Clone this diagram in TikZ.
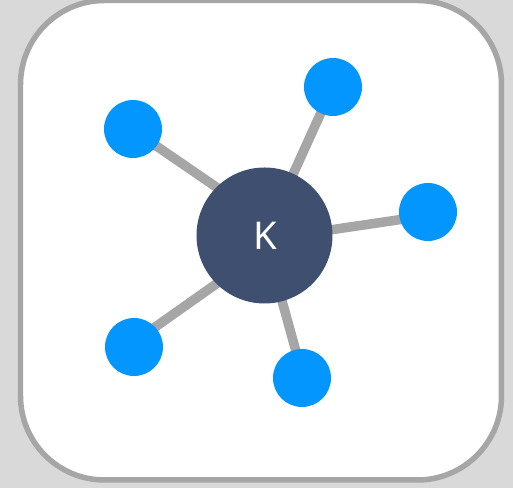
\documentclass[tikz,border=0pt]{standalone}
\usepackage{fontspec}
\setsansfont{Noto Sans}
\usepackage{xcolor}
\usetikzlibrary{positioning,backgrounds}
\definecolor{pagegrey}{HTML}{D9D9D9}
\definecolor{rimgrey}{HTML}{A6A6A6}
\definecolor{hubblue}{HTML}{3F4F6F}
\definecolor{leafblue}{HTML}{0496FF}
\begin{document}
\begin{tikzpicture}[semithick]
	\tikzstyle{hub}=[circle,fill=hubblue,text=white,minimum size=1.36cm,inner sep=0pt,font=\sffamily\fontsize{10.9}{12}\selectfont]
	\tikzstyle{leaf}=[circle,fill=leafblue,minimum size=0.58cm,inner sep=0pt]
	\tikzstyle{spoke}=[draw=rimgrey,line width=0.095cm,shorten >=-0.03cm,shorten <=-0.03cm]
	\useasboundingbox (0,0) rectangle (5.13,4.88);
	\node[hub]    (K) at (2.645,2.525) {\hspace{0.5pt}\raisebox{-0.4pt}{K}};
	\node[leaf]   (A) at (1.33,3.59)   {};
	\node[leaf]   (B) at (3.33,4.01)   {};
	\node[leaf]   (C) at (4.28,2.76)   {};
	\node[leaf]   (D) at (1.34,1.41)   {};
	\node[leaf]   (E) at (3.02,1.10)   {};
	\begin{scope}[on background layer]
	\fill[pagegrey] (0,0) rectangle (5.13,4.88);
	\draw[rimgrey,fill=white,line width=0.055cm,rounded corners=0.84cm] (0.205,0.08) rectangle (5.015,4.875);
	\path[spoke]
	(K.135.4) edge (A.-36)
	(K.65) edge (B.-115.5)
	(K.5.5) edge (C.195.4)
	(K.225) edge (D.43)
	(K.-75.3) edge (E.103);
	\end{scope}
\end{tikzpicture}
\end{document}
